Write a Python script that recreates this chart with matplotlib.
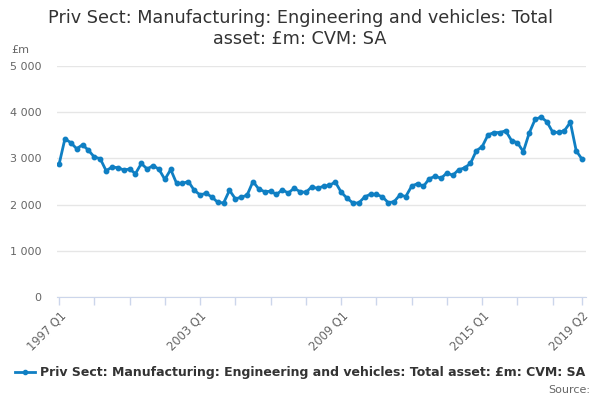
import matplotlib
matplotlib.use("Agg")
import matplotlib.pyplot as plt
from matplotlib.lines import Line2D

values = [2870, 3425, 3340, 3210, 3295, 3175, 3030, 2995,
          2735, 2810, 2800, 2750, 2770, 2670, 2890, 2770,
          2845, 2765, 2545, 2760, 2460, 2460, 2500, 2310,
          2210, 2245, 2165, 2050, 2035, 2310, 2125, 2160,
          2205, 2500, 2335, 2280, 2290, 2220, 2320, 2250,
          2355, 2280, 2265, 2385, 2350, 2400, 2415, 2490,
          2270, 2140, 2035, 2035, 2165, 2225, 2220, 2170,
          2045, 2060, 2210, 2175, 2400, 2455, 2395, 2560,
          2615, 2570, 2685, 2635, 2755, 2795, 2890, 3165,
          3255, 3510, 3560, 3560, 3598, 3385, 3340, 3145,
          3548, 3842, 3895, 3795, 3568, 3562, 3600, 3782,
          3165, 2980]
start_year = 1997
labels = [f"{start_year + i // 4} Q{i % 4 + 1}" for i in range(len(values))]
label_positions = ["1997 Q1", "2003 Q1", "2009 Q1", "2015 Q1", "2019 Q2"]
y_ticks = [0, 1000, 2000, 3000, 4000, 5000]
title = "Priv Sect: Manufacturing: Engineering and vehicles: Total\nasset: £m: CVM: SA"
legend_label = "Priv Sect: Manufacturing: Engineering and vehicles: Total asset: £m: CVM: SA"

blue = "#0f7fc3"
fig = plt.figure(figsize=(6, 4), dpi=100)
ax = fig.add_axes([0.095, 0.2575, 0.882, 0.5775])
x = list(range(len(values)))
ax.plot(x, values, color=blue, lw=2, marker="o", ms=3.2, zorder=3)

ax.set_ylim(0, 5000)
ax.set_xlim(-0.35, 89.7)
ax.set_yticks(y_ticks)
ax.set_yticklabels([f"{v:,}".replace(",", " ") for v in y_ticks], color="#666666", fontsize=8)
ax.grid(axis="y", color="#e6e6e6", lw=1)
ax.set_axisbelow(True)

n = len(values)
minor = list(range(0, n, 6)) + [n - 1]
ax.set_xticks(minor)
ax.set_xticklabels([labels[i] if labels[i] in label_positions else "" for i in minor],
                   rotation=45, ha="right", rotation_mode="anchor", color="#666666", fontsize=8.3)
ax.tick_params(axis="x", length=6, color="#ccd6eb", width=1, pad=3)
ax.tick_params(axis="y", length=0, pad=11)
for s in ["top", "right", "left"]:
    ax.spines[s].set_visible(False)
ax.spines["bottom"].set_color("#ccd6eb")

fig.text(0.5, 0.978, title, ha="center", va="top", fontsize=12.7, color="#333333", linespacing=1.2)
fig.text(0.018, 0.862, "£m", fontsize=8, color="#666666", va="bottom")

handle = Line2D([], [], color=blue, lw=2, marker="o", ms=3)
fig.legend([handle], [legend_label], loc="center", bbox_to_anchor=(0.5, 0.068), frameon=False,
           prop={"weight": "bold", "size": 9}, handlelength=1.6, handletextpad=0.4, labelcolor="#333333")
fig.text(0.983, 0.012, "Source:", ha="right", va="bottom", fontsize=8, color="#666666")

fig.savefig("out.png", dpi=100)
